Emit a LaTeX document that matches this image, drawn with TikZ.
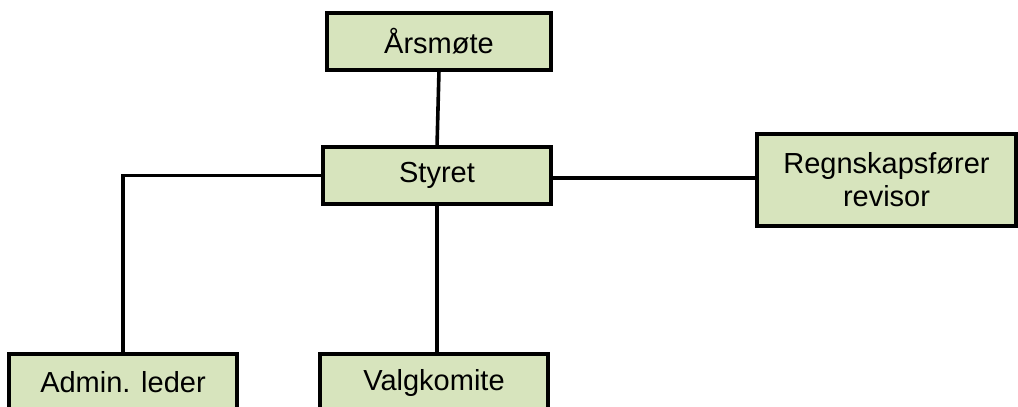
\documentclass[tikz,border=0pt]{standalone}
\usepackage{fontspec}
\setmainfont{Liberation Sans}
\definecolor{boxfill}{HTML}{D7E4BD}
\begin{document}
\begin{tikzpicture}[x=1pt,y=-1pt,
  orgbox/.style={draw=black, fill=boxfill, line width=4.5pt, inner sep=0pt, outer sep=0pt,
    align=center, font=\fontsize{29}{33}\selectfont},
  conn/.style={draw=black, line width=3.6pt}]
\useasboundingbox (0,0) rectangle (1018,407);
\clip (0,0) rectangle (1018,407);
\node[orgbox, minimum width=224pt, minimum height=57pt] (a) at (439,41.5) {Årsmøte};
\node[orgbox, minimum width=228pt, minimum height=57pt] (s) at (437,175.5) {Styret};
\node[orgbox, minimum width=259pt, minimum height=92pt] (r) at (886.5,180) {Regnskapsfører\\revisor};
\node[orgbox, minimum width=228pt, minimum height=57pt] (ad) at (123,382.5) {Admin. leder};
\node[orgbox, minimum width=228pt, minimum height=57pt] (v) at (434,382.5) {Valgkomite};
\draw[conn] (a.south) -- (s.north);
\draw[conn] (s.west) -| (ad.north);
\draw[conn] (s.south) -- (s.south |- v.north);
\draw[conn] ([yshift=-2.5pt]s.east) -- ([yshift=2pt]r.west);
\end{tikzpicture}
\end{document}
